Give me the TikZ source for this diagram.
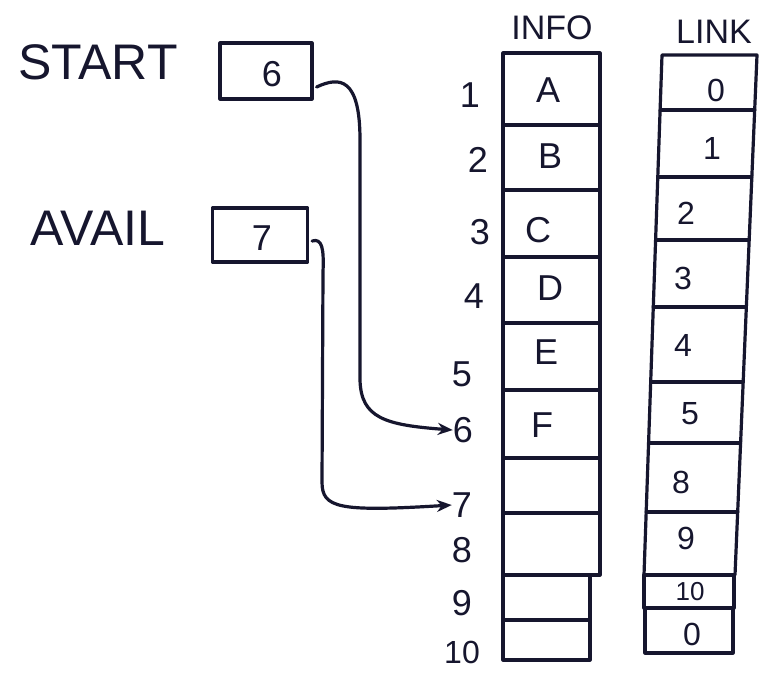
\documentclass[tikz,border=0pt]{standalone}
\usepackage{fontspec}
\setmainfont{Liberation Sans}
\usetikzlibrary{arrows.meta,calc}
\definecolor{inkc}{HTML}{16162E}
\begin{document}
\begin{tikzpicture}[x=1pt,y=-1pt,
  ink/.style={draw=inkc, line width=3.2pt, line cap=round, line join=round},
  big/.style={text=inkc, inner sep=0pt, font=\fontsize{50}{55}\selectfont},
  hdr/.style={text=inkc, inner sep=0pt, font=\fontsize{34}{38}\selectfont},
  num/.style={text=inkc, inner sep=0pt, font=\fontsize{36}{40}\selectfont},
  val/.style={text=inkc, inner sep=0pt, font=\fontsize{32}{36}\selectfont},
  regbox/.style={ink, minimum height=56pt, inner sep=0pt},
  ptr/.style={ink, -{Stealth[length=15pt,width=12pt]}}]
\useasboundingbox (0,0) rectangle (770,673);
\fill[white] (0,0) rectangle (770,673);

% registers
\node[big] (lblstart) at (98,62) {START};
\node[regbox, minimum width=92pt] (startbox) at (266,71) {};
\node[num] (vstart) at (272,74) {6};
\node[big] (lblavail) at (98,228) {AVAIL};
\node[regbox, minimum width=95pt, minimum height=54pt] (availbox) at (260,235) {};
\node[num] (vavail) at (262,238) {7};

% headers
\node[hdr] (hdrinfo) at (552,28) {INFO};
\node[hdr] (hdrlink) at (714,32) {LINK};

% INFO column
\draw[ink] (503,53) rectangle (600,575);
\foreach \yy in {125,190,257,323,390,458,513} \draw[ink] (503,\yy) -- (600,\yy);
\draw[ink] (503,575) rectangle (590,620);
\draw[ink] (503,620) rectangle (590,660);

% LINK column (slightly slanted, as drawn)
\draw[ink] (662,55) -- (757,55) -- (735,575) -- (644,575) -- cycle;
\draw[ink] (660.1,110) -- (754.7,110);
\draw[ink] (657.8,177) -- (751.8,177);
\draw[ink] (655.6,240) -- (749.2,240);
\draw[ink] (653.3,307) -- (746.3,307);
\draw[ink] (650.7,382) -- (743.2,382);
\draw[ink] (648.6,443) -- (740.6,443);
\draw[ink] (646.2,512) -- (737.7,512);
\draw[ink] (644,575) rectangle (734,608);
\draw[ink] (645,608) rectangle (733,653);

% index numbers
\node[num] (idx1) at (470,95) {1};
\node[num] (idx2) at (478,160) {2};
\node[num] (idx3) at (480,232) {3};
\node[num] (idx4) at (474,296) {4};
\node[num] (idx5) at (462,374) {5};
\node[num] (idx6) at (463,430) {6};
\node[num] (idx7) at (462,505) {7};
\node[num] (idx8) at (462,550) {8};
\node[num] (idx9) at (462,603) {9};
\node[num, font=\fontsize{32}{36}\selectfont] (idx10) at (462,652) {10};

% INFO values
\node[num] (inf1) at (548,90) {A};
\node[num] (inf2) at (550,156) {B};
\node[num] (inf3) at (538,230) {C};
\node[num] (inf4) at (550,288) {D};
\node[num] (inf5) at (546,352) {E};
\node[num] (inf6) at (542,425) {F};

% LINK values
\node[val] (lnk1) at (716,90) {0};
\node[val] (lnk2) at (712,148) {1};
\node[val] (lnk3) at (686,213) {2};
\node[val] (lnk4) at (683,278) {3};
\node[val] (lnk5) at (683,345) {4};
\node[val] (lnk6) at (690,414) {5};
\node[val] (lnk7) at (681,482) {8};
\node[val] (lnk8) at (686,538) {9};
\node[val, font=\fontsize{26}{30}\selectfont] (lnk9) at (690,592) {10};
\node[val] (lnk10) at (692,634) {0};

% pointers
\draw[ptr] ($(startbox.east)+(3,16)$) .. controls (340,76) and (360,78) .. (360,140)
  -- (360,380) .. controls (361,418) and (385,425) .. (idx6.west);
\draw[ptr] ($(availbox.east)+(3,6)$) .. controls (322,238) and (324,248) .. (323,272)
  -- (322,482) .. controls (322,508) and (338,512) .. (idx7.west);
\end{tikzpicture}
\end{document}
